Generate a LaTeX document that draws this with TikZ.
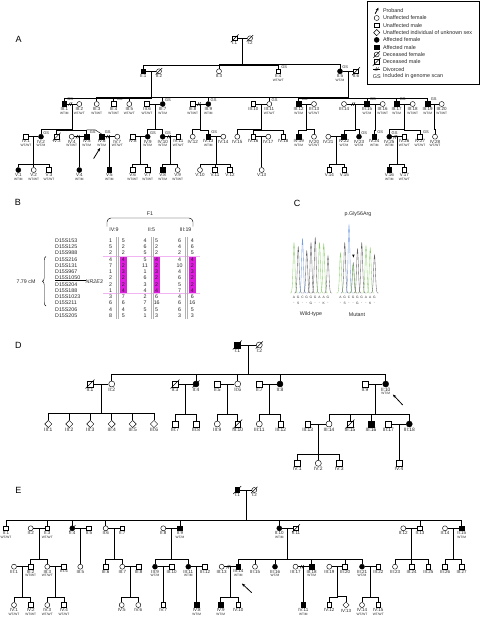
\documentclass[tikz,border=0pt]{standalone}
\usepackage{fontspec}
\setmainfont{Liberation Sans}
\usetikzlibrary{shapes.geometric,arrows.meta,calc,decorations.pathreplacing}
\definecolor{hlmag}{RGB}{222,30,222}
\definecolor{hlpink}{RGB}{242,180,242}
\definecolor{colA}{RGB}{140,205,110}
\definecolor{colC}{RGB}{115,155,225}
\definecolor{colG}{RGB}{95,95,95}

\newcommand{\pers}[4]{\node[#1] (#2) at (#3) [label={[lb]below:{#4}}] {};}
\newcommand{\wed}[3]{\draw (#1) -- coordinate[midway] (#3) (#2);}
\newcommand{\brk}[2]{\path ($(#1)!.4!(#2)$) pic {divo};}
\newcommand{\kids}[3]{\foreach \kid in {#3}{\draw (#1) |- ([yshift=#2]\kid.north) -- (\kid.north);}}

\begin{document}
\begin{tikzpicture}[x=1pt,y=-1pt,line width=0.45pt,
  m/.style={draw,rectangle,minimum size=4.8pt,inner sep=0pt},
  f/.style={draw,circle,minimum size=5pt,inner sep=0pt},
  u/.style={draw,diamond,minimum size=6.4pt,inner sep=0pt},
  aff/.style={fill=black},
  dec/.style={append after command={([shift={(-1.3,1.3)}]\tikzlastnode.south west) edge ([shift={(1.3,-1.3)}]\tikzlastnode.north east)}},
  lb/.style={font=\fontsize{4.5}{4.5}\selectfont,inner sep=0.3pt,text=black!85},
  gtl/.style={font=\fontsize{3.2}{3.2}\selectfont,inner sep=0.3pt,yshift=-4.6pt,text=black!85},
  gsl/.style={font=\fontsize{4}{4}\selectfont,inner sep=0.2pt,text=black!85},
  gs/.style={label={[gsl]north east:GS}},
  gtm/.style={label={[gtl]below:WT/M}},
  gtw/.style={label={[gtl]below:WT/WT}},
  prb/.style={-{Stealth[length=3.4pt,width=2.8pt]},line width=0.8pt},
  pl/.style={font=\fontsize{9}{9}\selectfont,inner sep=0pt},
  tb/.style={font=\fontsize{5.3}{5.3}\selectfont,inner sep=0pt,text=black!85},
  leg/.style={font=\fontsize{5.4}{5.4}\selectfont,inner sep=0pt,text=black!85},
  sq/.style={font=\fontsize{3.3}{3.3}\selectfont,inner sep=0pt,text=black!80},
  pics/divo/.style={code={\draw (-1.8,1.7) -- (0,-1.7) (0,1.7) -- (1.8,-1.7);}}]
\useasboundingbox (0,0) rectangle (480,619);

% legend
\draw (367.5,0.8) rectangle (479.2,84.5);
\coordinate (lp1) at (375.1,13.8);
\coordinate (lp2) at (378.5,7.6);
\draw[prb] (lp1) -- (lp2);
\node[f] (lsf) at (376.7,18) {};
\node[m] (lsm) at (376.7,25.3) {};
\node[u] (lsu) at (376.7,32.6) {};
\node[f,aff] (lsfa) at (376.7,39.9) {};
\node[m,aff] (lsma) at (376.7,47.2) {};
\node[dec,f] (lsfd) at (376.7,54.5) {};
\node[dec,m] (lsmd) at (376.7,61.8) {};
\coordinate (lw1) at (373.2,69.1);
\coordinate (lw2) at (380.2,69.1);
\draw (lw1) -- (lw2);
\path ($(lw1)!.5!(lw2)$) pic {divo};
\node[leg] (lsgs) at (376.7,76.4) {GS};
\foreach \txt [count=\i] in {Proband,Unaffected female,Unaffected male,Unaffected individual of unknown sex,Affected female,Affected male,Deceased female,Deceased male,Divorced,Included in genome scan}
  \node[leg,anchor=west] (lt\i) at (382.8,{3.4+7.3*\i}) {\txt};

% panel A
\node[pl] (labA) at (18.7,39.3) {A};
\pers{dec,m}{a11}{234.7,38.3}{I:1}
\pers{dec,f}{a12}{250,38.3}{I:2}
\pers{m,aff}{a21}{143.3,71.3}{II:1}
\pers{dec,f}{a22}{159,71.3}{II:2}
\pers{f}{a23}{219,71.3}{II:3}
\pers{m,gs,gtw}{a24}{278.3,71.3}{II:4}
\pers{f,aff,gs,gtm}{a25}{340,71.3}{II:5}
\pers{dec,m}{a26}{356,71.3}{II:6}
\pers{m,aff,gs,gtm}{a31}{64.3,104}{III:1}
\pers{f,gtw}{a32}{79.3,104}{III:2}
\pers{f,gtw}{a33}{96.7,104}{III:3}
\pers{m,gs,gtw}{a34}{113.7,104}{III:4}
\pers{f,gtw}{a35}{129.3,104}{III:5}
\pers{m,gtw}{a36}{147,104}{III:6}
\pers{f,aff,gs,gtm}{a37}{162.7,104}{III:7}
\pers{m,gtw}{a38}{192.7,104}{III:8}
\pers{f,aff,gs,gtm}{a39}{208.3,104}{III:9}
\pers{m}{a310}{253.3,104}{III:10}
\pers{f,gs,gtw}{a311}{269.3,104}{III:11}
\pers{m,aff,gs,gtm}{a312}{298.7,104}{III:12}
\pers{f,gtw}{a313}{314,104}{III:13}
\pers{f}{a314}{344,104}{III:14}
\pers{m,aff,gs,gtm}{a315}{367,104}{III:15}
\pers{f,gtw}{a316}{382.7,104}{III:16}
\pers{m,aff,gs,gtm}{a317}{396.7,104}{III:17}
\pers{f,gtw}{a318}{412.7,104}{III:18}
\pers{m,aff,gs,gtm}{a319}{427.7,104}{III:19}
\pers{f,gtw}{a320}{441.7,104}{III:20}
\pers{m,gtw}{a41}{26,136.7}{IV:1}
\pers{f,aff,gs,gtm}{a42}{41,136.7}{IV:2}
\pers{dec,m}{a43}{56.7,136.7}{IV:3}
\pers{f,gtw}{a44}{71.7,136.7}{IV:4}
\pers{m,aff,gs,gtm}{a45}{86.7,136.7}{IV:5}
\pers{m,aff,gs,gtm}{a46}{101.7,136.7}{IV:6}
\pers{f,gtw}{a47}{117.3,136.7}{IV:7}
\pers{m}{a48}{132.7,136.7}{IV:8}
\pers{f,aff,gs,gtm}{a49}{147.7,136.7}{IV:9}
\pers{f,aff,gs,gtm}{a410}{162.7,136.7}{IV:10}
\pers{m,gtw}{a411}{178.3,136.7}{IV:11}
\pers{f}{a412}{192.7,136.7}{IV:12}
\pers{m,aff,gs,gtm}{a413}{208.3,136.7}{IV:13}
\pers{f}{a414}{223.3,136.7}{IV:14}
\pers{f}{a415}{237.3,136.7}{IV:15}
\pers{m}{a416}{253.3,136.7}{IV:16}
\pers{f}{a417}{268.3,136.7}{IV:17}
\pers{m}{a418}{283.3,136.7}{IV:18}
\pers{m,aff,gtm}{a419}{298.7,136.7}{IV:19}
\pers{f,gtw}{a420}{314,136.7}{IV:20}
\pers{f}{a421}{328.3,136.7}{IV:21}
\pers{m,aff,gtm}{a422}{344,136.7}{IV:22}
\pers{f,aff,gs,gtm}{a423}{359,136.7}{IV:23}
\pers{m,aff,gs,gtm}{a424}{374.3,136.7}{IV:24}
\pers{f,aff,gs,gtm}{a425}{389.3,136.7}{IV:25}
\pers{m,gtw}{a426}{404.3,136.7}{IV:26}
\pers{m,gs,gtw}{a427}{420,136.7}{IV:27}
\pers{f,gtw}{a428}{435,136.7}{IV:28}
\pers{f,aff,gtm}{a51}{18.3,170}{V:1}
\pers{f,gtw}{a52}{33.7,170}{V:2}
\pers{m,gtw}{a53}{49,170}{V:3}
\pers{f,aff,gtm}{a54}{79.3,170}{V:4}
\pers{m,aff,gtm}{a55}{109.3,170}{V:5}
\pers{m,gtw}{a56}{132.7,170}{V:6}
\pers{m,gtw}{a57}{147.7,170}{V:7}
\pers{m,aff,gtm}{a58}{162.7,170}{V:8}
\pers{f,gtw}{a59}{177.7,170}{V:9}
\pers{f}{a510}{200,170}{V:10}
\pers{m}{a511}{215,170}{V:11}
\pers{m}{a512}{230,170}{V:12}
\pers{f}{a513}{261.7,170}{V:13}
\pers{m}{a514}{329.3,170}{V:14}
\pers{m}{a515}{344.3,170}{V:15}
\pers{m,aff,gtm}{a516}{389.3,170}{V:16}
\pers{m,gtw}{a517}{404.3,170}{V:17}

\wed{a11}{a12}{ma1}
\wed{a21}{a22}{ma21}
\wed{a25}{a26}{ma25}
\wed{a31}{a32}{ma31} \brk{a31}{a32}
\wed{a36}{a37}{ma36}
\wed{a38}{a39}{ma38} \brk{a38}{a39}
\wed{a310}{a311}{ma310}
\wed{a312}{a313}{ma312}
\wed{a314}{a315}{ma314} \brk{a314}{a315}
\wed{a315}{a316}{ma315}
\wed{a317}{a318}{ma317}
\wed{a319}{a320}{ma319}
\wed{a41}{a42}{ma41}
\wed{a44}{a45}{ma44} \brk{a44}{a45}
\wed{a46}{a47}{ma46} \brk{a46}{a47}
\wed{a48}{a49}{ma48}
\wed{a410}{a411}{ma410} \brk{a410}{a411}
\wed{a413}{a414}{ma413}
\wed{a416}{a417}{ma416}
\wed{a421}{a422}{ma421}
\wed{a425}{a426}{ma425} \brk{a425}{a426}

\kids{ma1}{3.9}{a21,a23,a24,a25}
\kids{ma21}{3.6}{a31,a33,a34,a35,a37,a39}
\kids{ma25}{3.6}{a311,a312,a315,a317,a319}
\draw ([yshift=3.6]a39.north) -- ([yshift=3.6]a311.north);
\kids{ma31}{4.3}{a42,a43,a45}
\draw ([yshift=4.3]a45.north) -- ([xshift=8.3,yshift=4.3]a45.north) -- (a46.north);
\kids{ma36}{4.3}{a49,a410}
\kids{ma38}{4.3}{a412,a413}
\kids{ma310}{4.3}{a415,a416,a418}
\kids{ma312}{4.3}{a419,a420}
\kids{ma314}{4.3}{a422,a423}
\kids{ma315}{4.3}{a424}
\kids{ma317}{4.3}{a425,a427}
\kids{ma319}{4.3}{a428}
\kids{ma41}{3}{a51,a52,a53}
\kids{ma44}{3}{a54}
\kids{ma46}{3}{a55}
\kids{ma48}{3}{a56,a57}
\kids{ma410}{3}{a58,a59}
\kids{ma413}{3}{a510,a511,a512}
\kids{ma416}{3}{a513}
\kids{ma421}{3}{a514,a515}
\kids{ma425}{3}{a516,a517}
\coordinate (pa1) at (93.6,158.6);
\coordinate (pa2) at (100.2,147.9);
\draw[prb] (pa1) -- (pa2);

% panel B
\node[pl] (labB) at (18,202) {B};
\node[tb] (fam1) at (150,213.5) {F1};
\draw[rounded corners=4pt] (107,226.5) -- (107,218) -- (193,218) -- (193,226.5);
\node[tb] (hd1) at (114,230) {IV:9};
\node[tb] (hd2) at (151.5,230) {II:5};
\node[tb] (hd3) at (185.5,230) {III:19};
\foreach \xc in {123.3,156.7,192.3}
  \fill[hlmag] (\xc-3.5,256.1) rectangle (\xc+3.5,293.6);
\draw[hlpink,line width=0.35pt] (103,256.1) -- (200,256.1) (103,293.6) -- (200,293.6);
\foreach \xc in {116.2,118.2,150.8,152.8,184.8,186.8}
  \draw[gray!60,line width=0.4pt] (\xc,237) -- (\xc,319);
\foreach \mk/\ca/\cb/\cc/\cd/\ce/\cf [count=\i from 0] in {D15S153/1/5/4/5/6/4,D15S125/5/2/6/2/4/6,D15S988/2/2/5/2/2/5,D15S216/4/4/5/4/4/4,D15S131/7/2/11/2/10/2,D15S967/1/3/1/3/4/3,D15S1050/2/2/6/2/6/2,D15S204/2/2/3/2/5/2,D15S188/1/4/4/4/7/4,D15S1023/3/7/2/6/4/6,D15S211/6/6/7/16/6/16,D15S206/4/4/5/5/6/5,D15S205/8/5/1/3/3/3}{
  \node[tb,anchor=west] (mk\i) at (55,{240.5+6.25*\i}) {\mk};
  \node[tb] (va\i) at (110.5,{240.5+6.25*\i}) {\ca};
  \node[tb] (vb\i) at (123.3,{240.5+6.25*\i}) {\cb};
  \node[tb] (vc\i) at (145,{240.5+6.25*\i}) {\cc};
  \node[tb] (vd\i) at (156.7,{240.5+6.25*\i}) {\cd};
  \node[tb] (ve\i) at (179.5,{240.5+6.25*\i}) {\ce};
  \node[tb] (vf\i) at (192.3,{240.5+6.25*\i}) {\cf};
}
\node[tb,anchor=west,font=\fontsize{5.3}{5.3}\selectfont\itshape] (nr) at (85.5,281.2) {NR2E3};
\draw[line width=0.35pt] (mk6.south west) -- (nr.west |- mk6.south west);
\draw[decorate,decoration={brace,amplitude=3.5pt},line width=0.4pt] (46,306) -- (46,256.5);
\node[tb] (cm) at (26,281.2) {7.79 cM};

% panel C
\node[pl] (labC) at (297,203) {C};
\node[tb] (gly) at (358,214.5) {p.Gly56Arg};
\foreach \k/\bs/\hh in {0/A/50,1/G/46,2/C/54,3/G/42,4/G/50,5/G/55,6/A/50,7/A/49,8/G/37}{
  \pgfmathsetmacro\xc{294+4.25*\k}
  \draw[color=col\bs,line width=0.35pt] plot[domain=-4.2:4.2,samples=31,smooth] ({\xc+\x},{293-\hh*exp(-(\x*\x)/1.6)});
}
\foreach \k/\bs/\hh in {0/A/40,1/G/50,2/C/68,3/G/30,3/A/28,4/G/44,5/G/50,6/A/47,7/A/45,8/G/38}{
  \pgfmathsetmacro\xc{340.5+4.25*\k}
  \draw[color=col\bs,line width=0.35pt] plot[domain=-4.2:4.2,samples=31,smooth] ({\xc+\x},{293-\hh*exp(-(\x*\x)/1.6)});
}
\fill (352.2,254.6) -- (354.6,254.6) -- (353.4,257.6) -- cycle;
\foreach \bs [count=\k from 0] in {A,G,C,G,G,G,A,A,G}{
  \node[sq] (wb\k) at ({294+4.25*\k},297.6) {\bs};
  \node[sq] (mb\k) at ({340.5+4.25*\k},297.6) {\bs};
}
\foreach \aa [count=\k from 0] in {-,S,-,-,G,-,-,K,-}{
  \node[sq] (wa\k) at ({294+4.25*\k},303) {\aa};
  \node[sq] (ma\k) at ({340.5+4.25*\k},303) {\aa};
}
\node[tb] (wtl) at (311,314.6) {Wild-type};
\node[tb] (mul) at (357,314.6) {Mutant};

% panel D
\node[pl] (labD) at (18.3,345) {D};
\begin{scope}[m/.append style={minimum size=5.8pt},f/.append style={minimum size=6pt},
  u/.append style={minimum size=7.4pt},lb/.append style={font=\fontsize{4.9}{4.9}\selectfont}]
\pers{dec,m,aff}{d11}{237.3,345}{I:1}
\pers{dec,f}{d12}{259.3,345}{I:2}
\pers{dec,m}{d21}{90,384}{II:1}
\pers{f}{d22}{111.7,384}{II:2}
\pers{dec,m}{d23}{175,384}{II:3}
\pers{dec,f,aff}{d24}{196,384}{II:4}
\pers{m}{d25}{217.3,384}{II:5}
\pers{f}{d26}{237.7,384}{II:6}
\pers{m}{d27}{259.3,384}{II:7}
\pers{f,aff}{d28}{280,384}{II:8}
\pers{m}{d29}{365,384}{II:9}
\pers{f,aff,gtm}{d210}{385.7,384}{II:10}
\pers{u}{d31}{48.3,424}{III:1}
\pers{u}{d32}{69.3,424}{III:2}
\pers{u}{d33}{90.3,424}{III:3}
\pers{u}{d34}{111.7,424}{III:4}
\pers{u}{d35}{132.7,424}{III:5}
\pers{u}{d36}{154,424}{III:6}
\pers{m}{d37}{175,424}{III:7}
\pers{m}{d38}{196,424}{III:8}
\pers{f}{d39}{217.3,424}{III:9}
\pers{dec,m}{d310}{237.7,424}{III:10}
\pers{f}{d311}{259.3,424}{III:11}
\pers{m}{d312}{280.7,424}{III:12}
\pers{m}{d313}{307.7,424}{III:13}
\pers{f}{d314}{329,424}{III:14}
\pers{dec,m}{d315}{350,424}{III:15}
\pers{m,aff}{d316}{371,424}{III:16}
\pers{m}{d317}{388.3,424}{III:17}
\pers{f,aff}{d318}{409.3,424}{III:18}
\pers{m}{d41}{297.3,463.3}{IV:1}
\pers{f}{d42}{318.3,463.3}{IV:2}
\pers{m}{d43}{339.3,463.3}{IV:3}
\pers{m}{d44}{399,463.3}{IV:4}
\end{scope}
\wed{d11}{d12}{md1}
\wed{d21}{d22}{md21}
\wed{d23}{d24}{md23}
\wed{d25}{d26}{md25}
\wed{d27}{d28}{md27}
\wed{d29}{d210}{md29}
\wed{d313}{d314}{md313}
\wed{d317}{d318}{md317}
\kids{md1}{6.6}{d22,d24,d26,d28,d210}
\kids{md21}{6.6}{d31,d32,d33,d34,d35,d36}
\kids{md23}{6.6}{d37,d38}
\kids{md25}{6.6}{d39,d310}
\kids{md27}{6.6}{d311,d312}
\kids{md29}{6.6}{d314,d315,d316,d318}
\kids{md313}{6.4}{d41,d42,d43}
\kids{md317}{6.4}{d44}
\coordinate (pd1) at (402.7,405);
\coordinate (pd2) at (392.9,394.5);
\draw[prb] (pd1) -- (pd2);

% panel E
\node[pl] (labE) at (18.3,490) {E};
\pers{dec,m,aff}{e11}{237.3,490}{I:1}
\pers{dec,f}{e12}{254.3,490}{I:2}
\pers{m,gtw}{e21}{6,528.3}{II:1}
\pers{f}{e22}{30.7,528.3}{II:2}
\pers{m,gtw}{e23}{47.3,528.3}{II:3}
\pers{dec,f,aff}{e24}{72.3,528.3}{II:4}
\pers{m}{e25}{89,528.3}{II:5}
\pers{f}{e26}{105.7,528.3}{II:6}
\pers{m}{e27}{122.3,528.3}{II:7}
\pers{f}{e28}{163.3,528.3}{II:8}
\pers{m,aff,gtm}{e29}{180,528.3}{II:9}
\pers{f,aff,gtm}{e210}{279.3,528.3}{II:10}
\pers{dec,m}{e211}{296,528.3}{II:11}
\pers{f}{e212}{403.3,528.3}{II:12}
\pers{m}{e213}{420,528.3}{II:13}
\pers{f}{e214}{445,528.3}{II:14}
\pers{m,aff,gtm}{e215}{461.7,528.3}{II:15}
\pers{f}{e31}{14,566.7}{III:1}
\pers{m,gtw}{e32}{30.7,566.7}{III:2}
\pers{f,gtw}{e33}{47.3,566.7}{III:3}
\pers{m}{e34}{64,566.7}{III:4}
\pers{f}{e35}{80.3,566.7}{III:5}
\pers{m}{e36}{105.7,566.7}{III:6}
\pers{f}{e37}{122.3,566.7}{III:7}
\pers{m}{e38}{138.7,566.7}{III:8}
\pers{f,aff,gtm}{e39}{155,566.7}{III:9}
\pers{m}{e310}{171.7,566.7}{III:10}
\pers{f,aff,gtm}{e311}{188.3,566.7}{III:11}
\pers{m}{e312}{205,566.7}{III:12}
\pers{f}{e313}{221.7,566.7}{III:13}
\pers{m,aff,gtm}{e314}{238.3,566.7}{III:14}
\pers{f}{e315}{255,566.7}{III:15}
\pers{f,aff,gtm}{e316}{275,566.7}{III:16}
\pers{f}{e317}{295.5,566.7}{III:17}
\pers{m,aff,gtm}{e318}{311.7,566.7}{III:18}
\pers{f}{e319}{329.3,566.7}{III:19}
\pers{m}{e320}{345,566.7}{III:20}
\pers{f,aff,gtm}{e321}{362,566.7}{III:21}
\pers{m}{e322}{378.3,566.7}{III:22}
\pers{f}{e323}{395,566.7}{III:23}
\pers{m}{e324}{411.7,566.7}{III:24}
\pers{m}{e325}{428.3,566.7}{III:25}
\pers{m}{e326}{445,566.7}{III:26}
\pers{m}{e327}{461.7,566.7}{III:27}
\pers{f,gtw}{e41}{14,605}{IV:1}
\pers{m,gtw}{e42}{30.7,605}{IV:2}
\pers{f,gtw}{e43}{47.3,605}{IV:3}
\pers{m,gtw}{e44}{64,605}{IV:4}
\pers{f}{e45}{121.7,605}{IV:5}
\pers{f}{e46}{138.3,605}{IV:6}
\pers{m}{e47}{163.3,605}{IV:7}
\pers{m,aff,gtm}{e48}{196.7,605}{IV:8}
\pers{m,aff,gtm}{e49}{220.7,605}{IV:9}
\pers{m}{e410}{238.3,605}{IV:10}
\pers{m,aff,gtm}{e411}{303.3,605}{IV:11}
\pers{m}{e412}{329.3,605}{IV:12}
\pers{u}{e413}{346,605}{IV:13}
\pers{f,gtw}{e414}{362,605}{IV:14}
\pers{m,gtw}{e415}{378.3,605}{IV:15}

\wed{e11}{e12}{me1}
\wed{e22}{e23}{me22}
\wed{e24}{e25}{me24}
\wed{e26}{e27}{me26}
\wed{e28}{e29}{me28}
\wed{e210}{e211}{me210}
\wed{e212}{e213}{me212}
\wed{e214}{e215}{me214}
\wed{e31}{e32}{me31}
\wed{e33}{e34}{me33}
\wed{e37}{e38}{me37}
\wed{e39}{e310}{me39}
\wed{e311}{e312}{me311}
\wed{e313}{e314}{me313} \brk{e313}{e314}
\wed{e317}{e318}{me317} \brk{e317}{e318}
\wed{e319}{e320}{me319}
\wed{e321}{e322}{me321}
\kids{me1}{5}{e21,e23,e24,e26,e29,e210,e213,e215}
\kids{me22}{5}{e32,e33}
\kids{me24}{5}{e35}
\kids{me26}{5}{e36,e37}
\kids{me28}{5}{e39,e311}
\kids{me210}{5}{e314,e315,e316,e318,e320,e321}
\kids{me212}{5}{e323,e324,e325}
\kids{me214}{5}{e326,e327}
\kids{me31}{4.9}{e41,e42}
\kids{me33}{4.9}{e43,e44}
\kids{me37}{4.9}{e45,e46}
\kids{me39}{4.9}{e47}
\kids{me311}{4.9}{e48}
\kids{me313}{4.9}{e49,e410}
\kids{me317}{4.9}{e411}
\kids{me319}{4.9}{e412,e413}
\kids{me321}{4.9}{e414,e415}
\coordinate (pe1) at (251.7,592.7);
\coordinate (pe2) at (241.9,583.5);
\draw[prb] (pe1) -- (pe2);
\end{tikzpicture}
\end{document}
